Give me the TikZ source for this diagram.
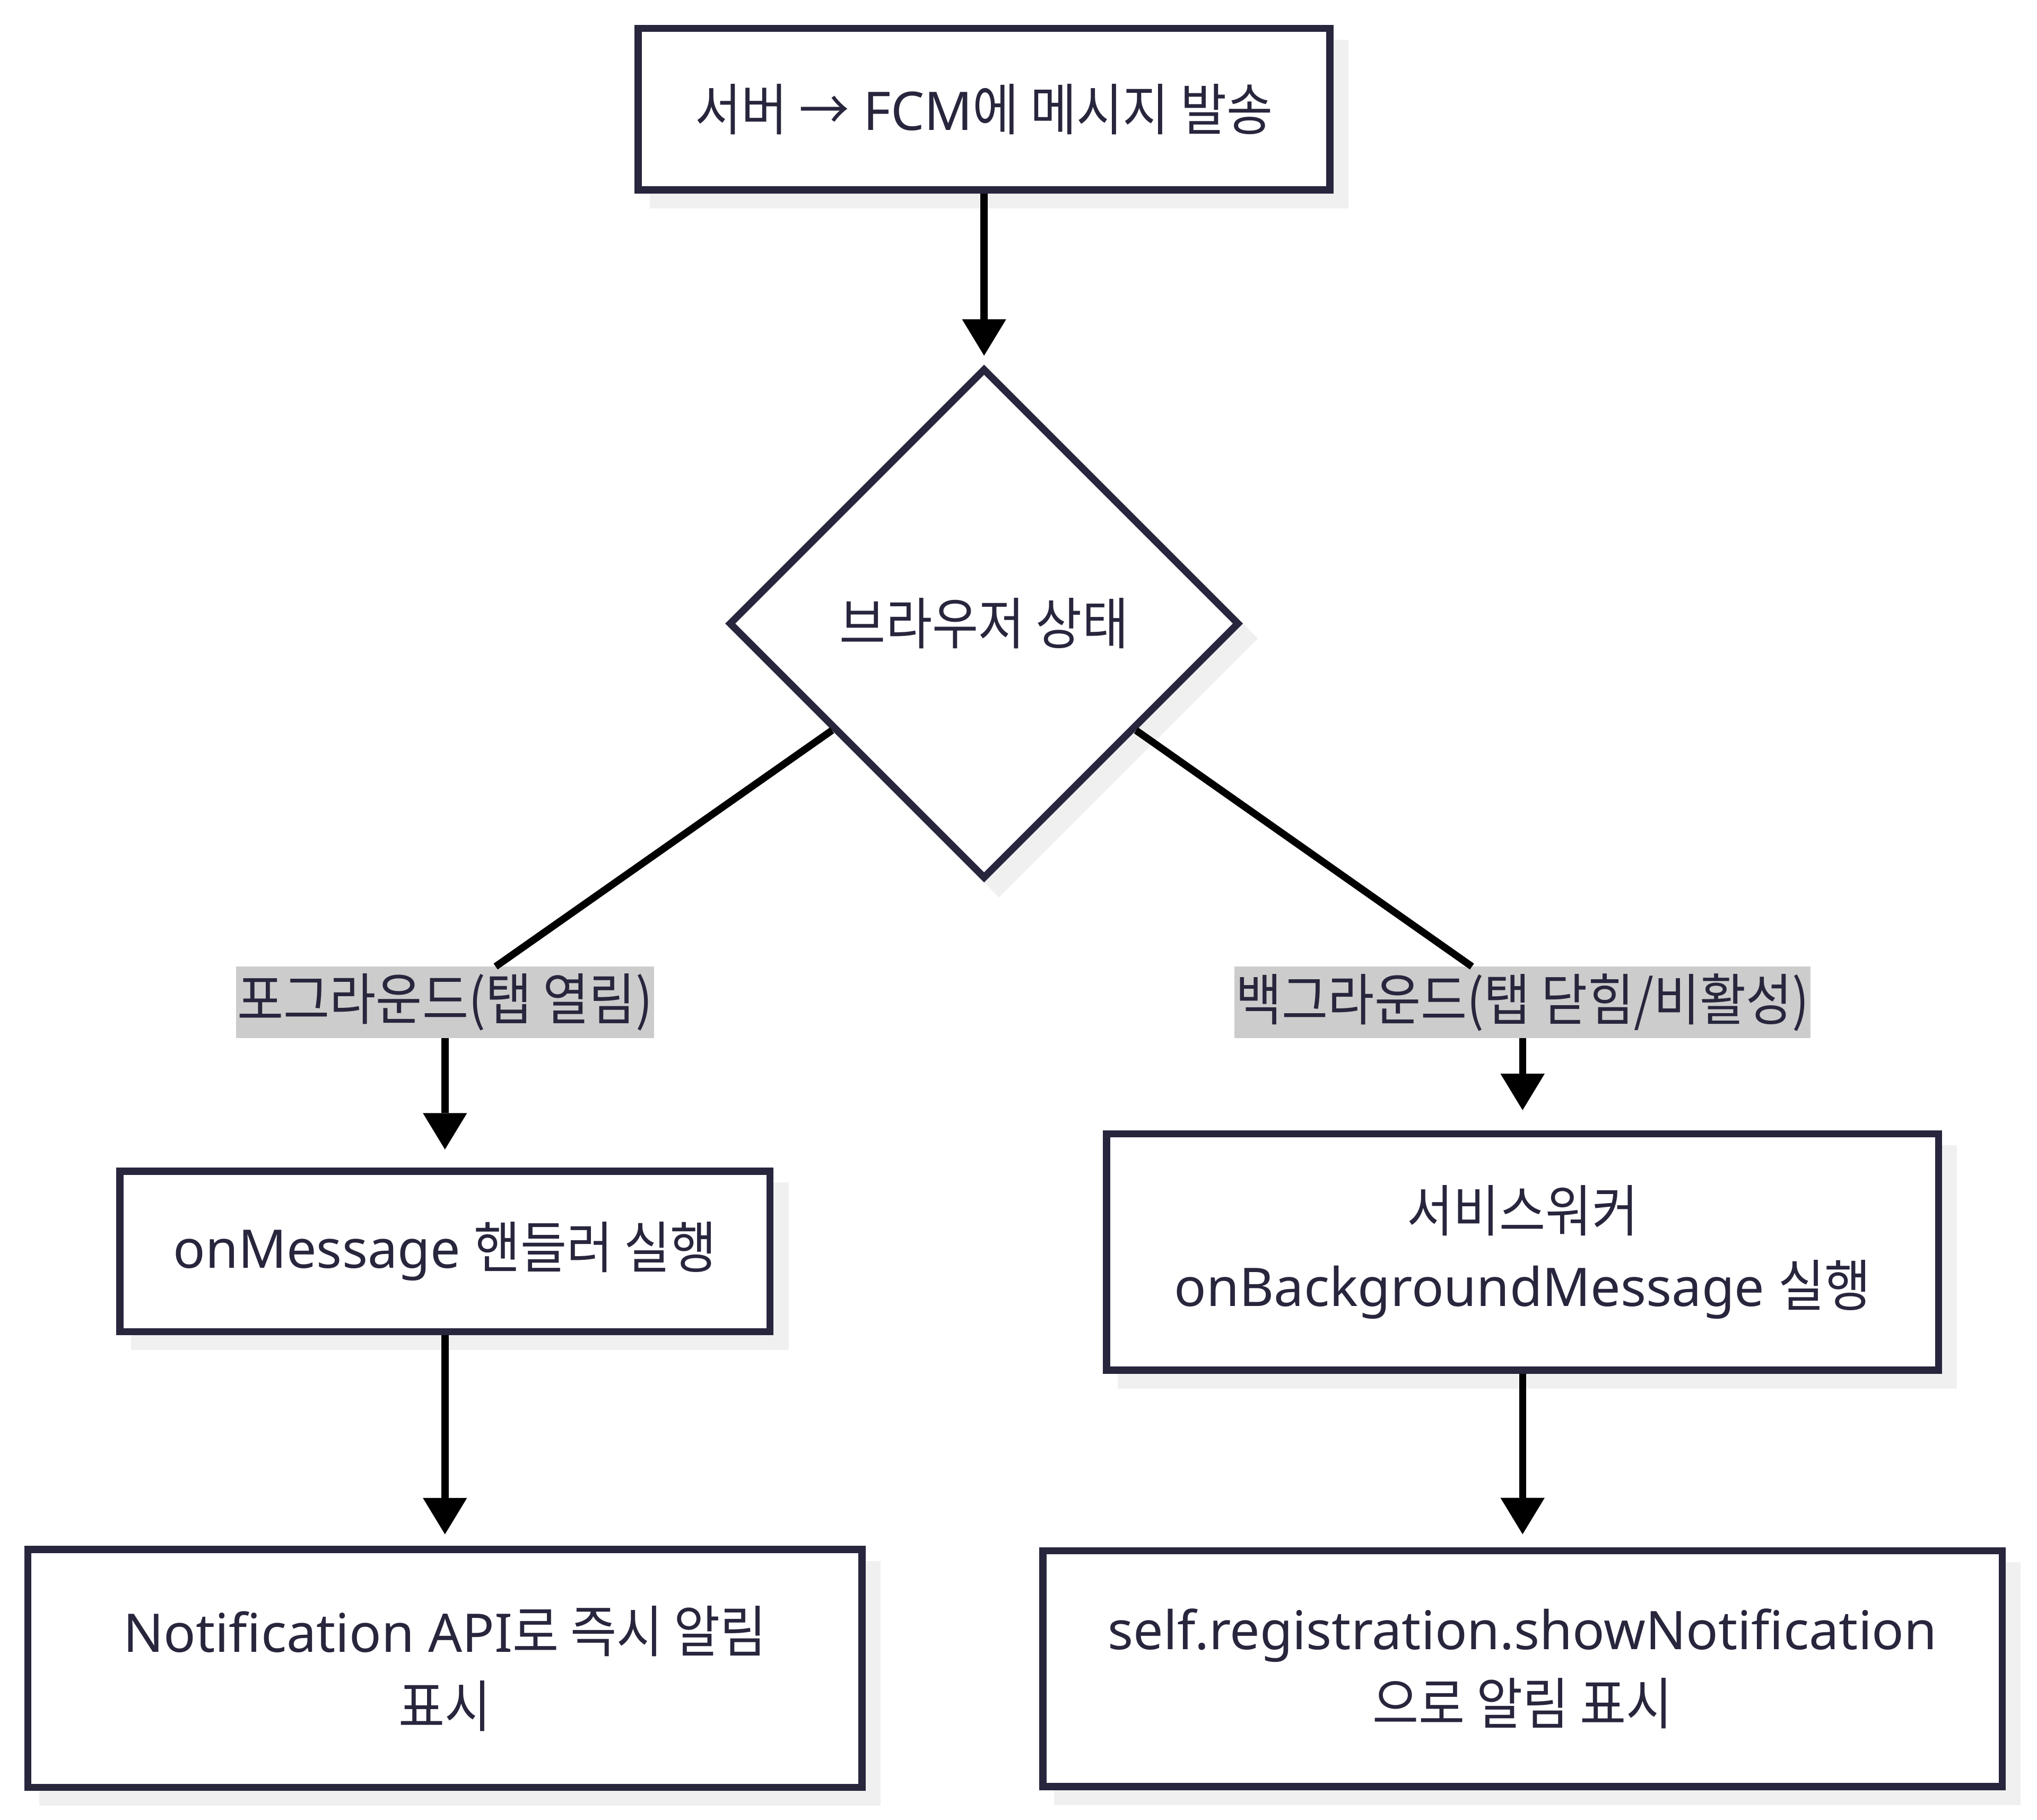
\documentclass[tikz,border=0pt]{standalone}
\usepackage{fontspec}
\setmainfont{Noto Sans}
\newfontfamily\krfont[FakeStretch=0.9]{Noto Sans CJK KR}
\newcommand\kr[1]{{\krfont\fontsize{43pt}{57.5pt}\selectfont #1}}
\usetikzlibrary{shapes.geometric,arrows.meta,shadows}
\definecolor{navy}{RGB}{39,38,61}
\definecolor{shgray}{RGB}{240,240,240}
\definecolor{lblgray}{RGB}{204,204,204}
\begin{document}
\begin{tikzpicture}[x=1pt,y=-1pt,
  base/.style={text=navy, font=\fontsize{41pt}{57.5pt}\selectfont, align=center},
  box/.style={base, draw=navy, line width=5.5pt, fill=white, inner sep=0pt,
    general shadow={fill=shgray, draw=shgray, shadow xshift=11.5pt, shadow yshift=-11.5pt}},
  dec/.style={box, diamond, minimum width=393pt, minimum height=393pt, aspect=1},
  lbl/.style={base, fill=lblgray, inner xsep=1pt, inner ysep=0pt, minimum height=55pt, outer sep=0pt},
  conn/.style={draw=black, line width=5.5pt},
  arr/.style={conn, -{Triangle[length=28pt,width=34pt,line width=0pt]}}]
\fill[white] (0,0) rectangle (1568,1400.6);
\useasboundingbox (0,0) rectangle (1568,1400.6);
\node[box, minimum width=532.5pt, minimum height=124.5pt] (top) at (757.5,84) {\kr{서버 →} FCM\kr{에 메시지 발송}};
\node[dec] (dia) at (757.5,480) {\kr{브라우저 상태}};
\node[lbl] (lblL) at (342.5,771.5) {\kr{포그라운드(탭 열림)}};
\node[lbl] (lblR) at (1172,771.5) {\kr{백그라운드(탭 닫힘/비활성)}};
\node[box, minimum width=500.5pt, minimum height=123.5pt] (onmsg) at (342.5,963.3) {onMessage \kr{핸들러 실행}};
\node[box, minimum width=640.5pt, minimum height=182pt] (sw) at (1172,963.8) {\kr{서비스워커}\\onBackgroundMessage \kr{실행}};
\node[box, minimum width=642pt, minimum height=183pt] (notif) at (342.5,1284.3) {Notification API\kr{로 즉시 알림}\\\kr{표시}};
\node[box, minimum width=738.5pt, minimum height=181.5pt] (selfreg) at (1172,1284.5) {self.registration.showNotification\\\kr{으로 알림 표시}};
\draw[arr, shorten >=7pt] (top) -- (dia);
\draw[conn] (dia) -- (lblL);
\draw[conn] (dia) -- (lblR);
\draw[arr, shorten >=14pt] (lblL) -- (onmsg);
\draw[arr, shorten >=15.5pt] (lblR) -- (sw);
\draw[arr, shorten >=9pt] (onmsg) -- (notif);
\draw[arr, shorten >=10pt] (sw) -- (selfreg);
\end{tikzpicture}
\end{document}
